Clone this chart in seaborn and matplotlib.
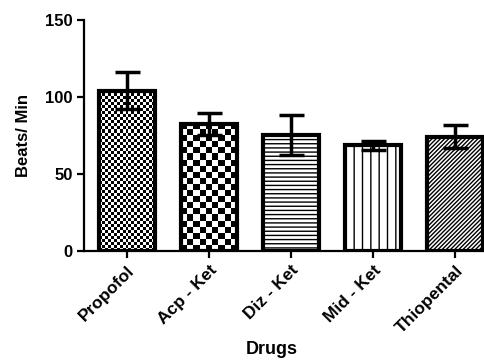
import numpy as np
import pandas as pd
import matplotlib
matplotlib.use("Agg")
import matplotlib.pyplot as plt
import seaborn as sns

# datos
drogas = ["Propofol", "Acp - Ket", "Diz - Ket", "Mid - Ket", "Thiopental"]
latidos = [104, 82.5, 75, 68.5, 74]
error = [12, 7.3, 13, 3, 7.5]

sns.set_theme(style="white")
plt.rcParams['font.family'] = ['Liberation Sans', 'DejaVu Sans']
plt.rcParams['font.weight'] = 'bold'
plt.rcParams['text.color'] = 'black'
plt.rcParams['axes.labelcolor'] = 'black'
plt.rcParams['xtick.color'] = 'black'
plt.rcParams['ytick.color'] = 'black'
plt.rcParams['hatch.linewidth'] = 1.0

df = pd.DataFrame({"droga": drogas, "latidos": latidos, "error": error})

fig = plt.figure(figsize=(4.84, 3.60), dpi=100)
ax = fig.add_axes([0.174, 0.303, 0.826, 0.642])

sns.barplot(data=df, x="droga", y="latidos", ax=ax, color="white",
            edgecolor="black", linewidth=3, width=0.68, errorbar=None,
            saturation=1)

ax.set_xlim(-0.52, 4.35)
ax.set_ylim(0, 150)
ax.set_yticks([0, 50, 100, 150])

# patrones de relleno
rellenos = ["check_fino", "check", "----", "||", "////////"]
fig.canvas.draw()
for bar, rel in zip(ax.patches, rellenos):
    if rel.startswith("check"):
        celda = 3 if rel == "check_fino" else 6
        x0, y0 = bar.get_x(), bar.get_y()
        w, h = bar.get_width(), bar.get_height()
        p0 = ax.transData.transform((x0, y0))
        p1 = ax.transData.transform((x0 + w, y0 + h))
        nx = max(1, int(round((p1[0] - p0[0]) / celda)))
        ny = max(1, int(round((p1[1] - p0[1]) / celda)))
        tablero = (np.add.outer(np.arange(ny), np.arange(nx)) % 2).astype(float)
        im = ax.imshow(tablero, cmap="gray", extent=(x0, x0 + w, y0, y0 + h),
                       interpolation="nearest", aspect="auto", zorder=bar.get_zorder() - 0.1)
        im.set_clip_path(bar)
        bar.set_facecolor("none")
    else:
        bar.set_hatch(rel)
ax.set_xlim(-0.52, 4.35)
ax.set_ylim(0, 150)

ax.errorbar(np.arange(len(drogas)), latidos, yerr=error, fmt="none",
            ecolor="black", elinewidth=2.5, capsize=9, capthick=2.5, zorder=5)

sns.despine(ax=ax)
for s in ["left", "bottom"]:
    ax.spines[s].set_linewidth(1.6)
    ax.spines[s].set_color("black")
ax.tick_params(axis="both", which="major", direction="out", length=5, width=1.6,
               color="black", labelsize=12, bottom=True, left=True)
ax.set_xticks(range(len(drogas)))
ax.set_xticklabels(drogas, rotation=45, ha="right", rotation_mode="anchor",
                   fontweight="bold", fontsize=12.5)
for t in ax.get_yticklabels():
    t.set_fontweight("bold")

ax.set_ylabel("Beats/ Min", fontsize=12, fontweight="bold", labelpad=10)
ax.set_xlabel("Drugs", fontsize=13, fontweight="bold")
ax.xaxis.set_label_coords(0.47, -0.39)

fig.savefig("out.png", dpi=100)
